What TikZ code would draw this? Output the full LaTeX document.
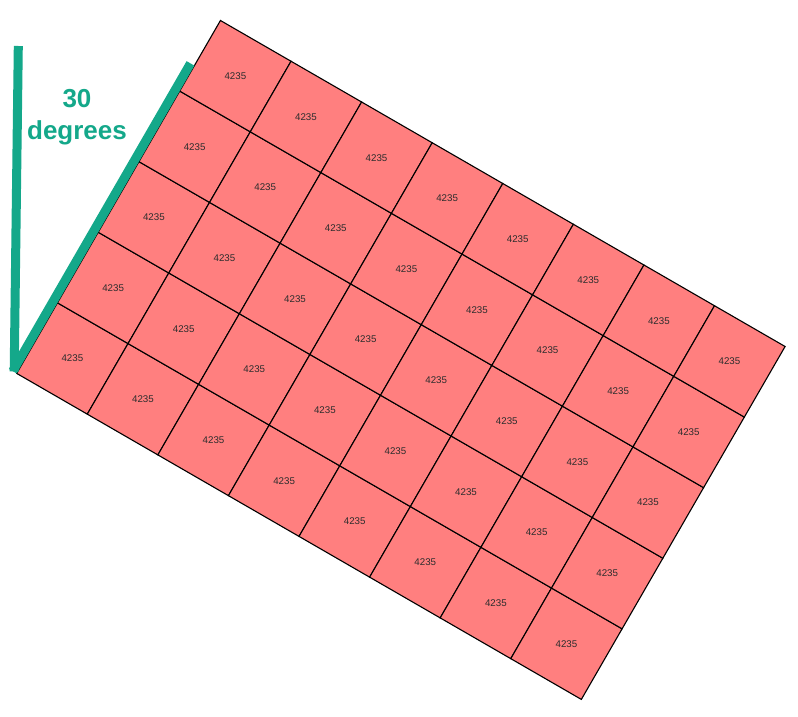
\documentclass[tikz,border=0pt]{standalone}
\usepackage{fontspec}
\setmainfont{Liberation Sans}
\definecolor{tealline}{RGB}{20,168,138}
\definecolor{cellfill}{RGB}{255,127,127}
\definecolor{celltext}{RGB}{45,45,45}
\begin{document}
\begin{tikzpicture}[x=1pt,y=-1pt,
  cell/.style={fill=cellfill,draw=black,line width=1.1pt,line join=miter},
  lbl/.style={text=celltext,font=\fontsize{9.75}{11}\selectfont,inner sep=0pt},
  greenbar/.style={draw=tealline,line width=9pt,line cap=butt},
  bigtext/.style={text=tealline,font=\fontsize{26}{31}\selectfont\bfseries,inner sep=0pt,anchor=base}]
\useasboundingbox (0,0) rectangle (798,717);
% grid of cells
\begin{scope}[shift={(16.7,373.4)}, x={(70.58pt,-40.75pt)}, y={(40.75pt,70.58pt)}]
  \foreach \i in {0,...,7}{
    \foreach \j in {0,...,4}{
      \filldraw[cell] (\i,\j) -- ++(1,0) -- ++(0,1) -- ++(-1,0) -- cycle;
      \node[lbl] (c-\i-\j) at (\i+0.5,\j+0.5) {4235};
    }
  }
\end{scope}
% angle marker
\coordinate (vtop) at (18.3,46);
\coordinate (vbot) at (14.2,371.5);
\coordinate (sbot) at (12.8,371.2);
\coordinate (stop) at (190.5,63.4);
\draw[greenbar] (vtop) -- (vbot);
\draw[greenbar] (sbot) -- (stop);
\node[bigtext] (t30) at (77,107.5) {30};
\node[bigtext] (tdeg) at (77,139.5) {degrees};
\end{tikzpicture}
\end{document}
